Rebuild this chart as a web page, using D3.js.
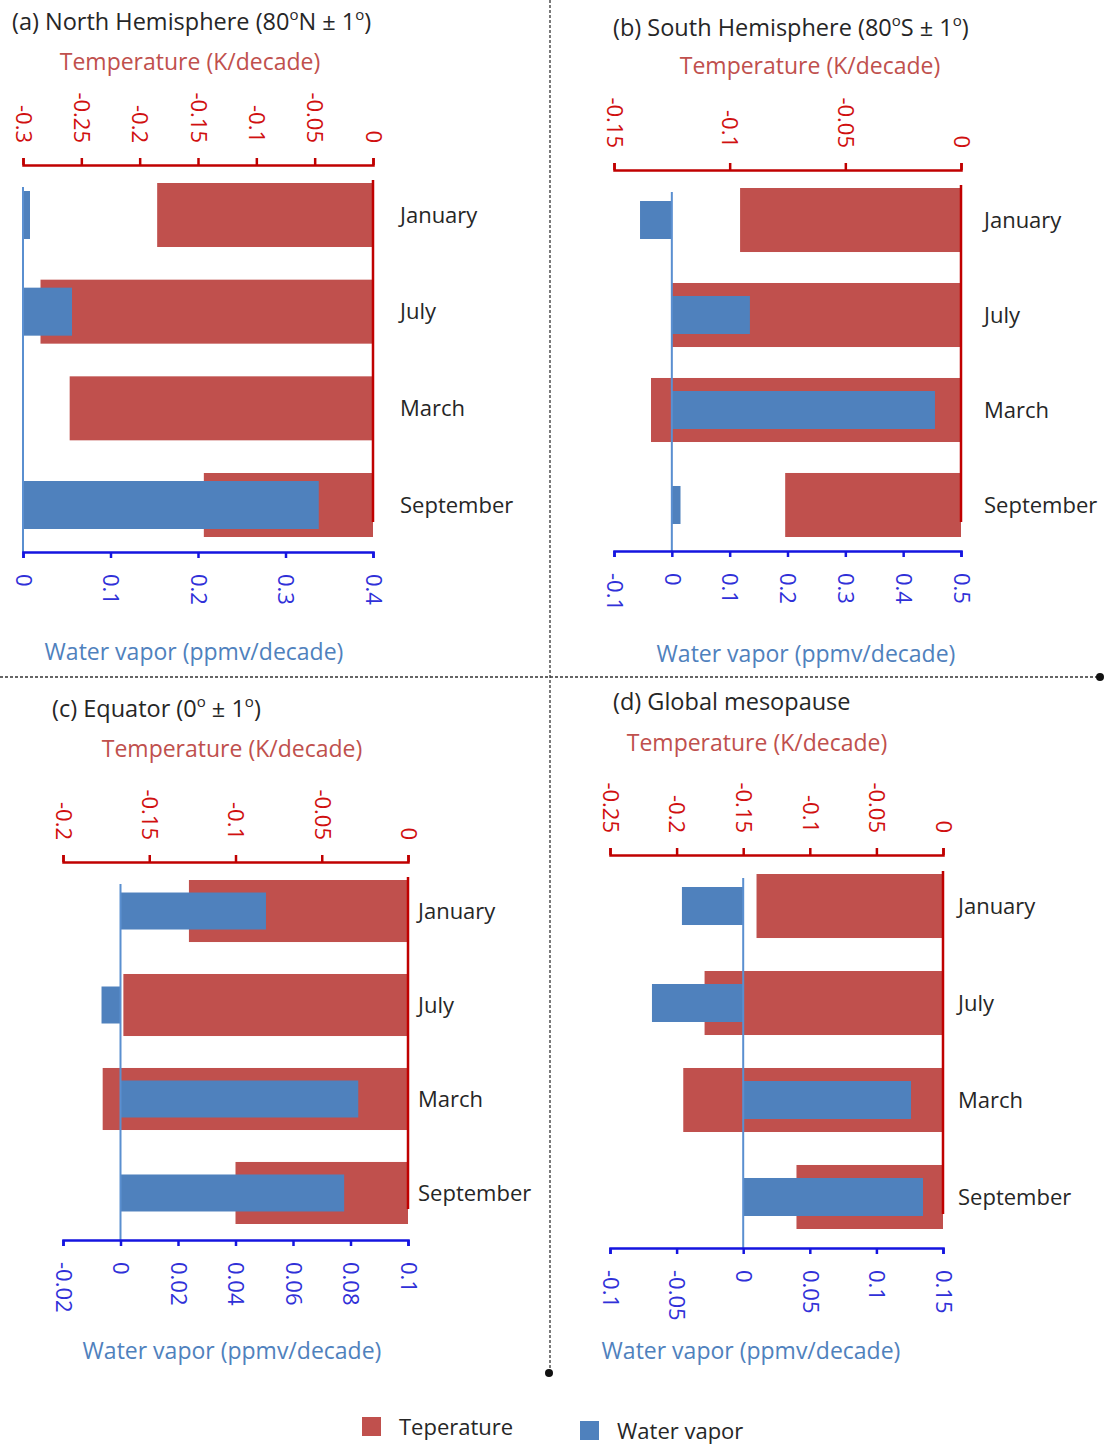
<!DOCTYPE html>
<html>
<head>
<meta charset="utf-8">
<script src="https://cdn.jsdelivr.net/npm/d3@7"></script>
<style>
  body { margin: 0; background: #fff; }
  text { font-family: "Open Sans", Lato, sans-serif; }
</style>
</head>
<body>
<script>
// categories (top to bottom)
const months = ["January", "July", "March", "September"];

// (a) North Hemisphere
const tempNorth = [-0.185, -0.285, -0.26, -0.145];
const vaporNorth = [0.008, 0.056, 0, 0.338];
const tempTicksNorth = [-0.3, -0.25, -0.2, -0.15, -0.1, -0.05, 0];
const vaporTicksNorth = [0, 0.1, 0.2, 0.3, 0.4];

// (b) South Hemisphere
const tempSouth = [-0.0955, -0.125, -0.134, -0.076];
const vaporSouth = [-0.055, 0.135, 0.455, 0.015];
const tempTicksSouth = [-0.15, -0.1, -0.05, 0];
const vaporTicksSouth = [-0.1, 0, 0.1, 0.2, 0.3, 0.4, 0.5];

// (c) Equator
const tempEquator = [-0.127, -0.165, -0.177, -0.1];
const vaporEquator = [0.0506, -0.0066, 0.0827, 0.0778];
const tempTicksEquator = [-0.2, -0.15, -0.1, -0.05, 0];
const vaporTicksEquator = [-0.02, 0, 0.02, 0.04, 0.06, 0.08, 0.1];

// (d) Global mesopause
const tempGlobal = [-0.14, -0.179, -0.195, -0.11];
const vaporGlobal = [-0.046, -0.0685, 0.126, 0.135];
const tempTicksGlobal = [-0.25, -0.2, -0.15, -0.1, -0.05, 0];
const vaporTicksGlobal = [-0.1, -0.05, 0, 0.05, 0.1, 0.15];

const legendLabels = ["Teperature", "Water vapor"];

const redBar = "#c0504d", blueBar = "#4f81bd";
const redAxis = "#c00000", blueAxis = "#1515e0";

const width = 1105, height = 1447;
const svg = d3.select("body").append("svg")
  .attr("width", width).attr("height", height);

// panel table built from the arrays above
let panels = [
  { title: ["(a) North Hemisphere (80", "o", "N \u00b1 1", "o", ")"], temp: tempNorth, vapor: vaporNorth,
    tTicks: tempTicksNorth, vTicks: vaporTicksNorth,
    left: 23, right: 373, tAxisY: 165, vAxisY: 552, band: [183, 537], pad: 0.338, blueH: 48,
    titleX: 12, titleY: 22, tTitleX: 190, tTitleY: 62, vTitleX: 194, vTitleY: 652, labelX: 400 },
  { title: ["(b) South Hemisphere (80", "o", "S \u00b1 1", "o", ")"], temp: tempSouth, vapor: vaporSouth,
    tTicks: tempTicksSouth, vTicks: vaporTicksSouth,
    left: 614, right: 961, tAxisY: 170, vAxisY: 551, band: [188, 537], pad: 0.326, blueH: 38,
    titleX: 613, titleY: 28, tTitleX: 810, tTitleY: 66, vTitleX: 806, vTitleY: 654, labelX: 984 },
  { title: ["(c) Equator (0", "o", " \u00b1 1", "o", ")"], temp: tempEquator, vapor: vaporEquator,
    tTicks: tempTicksEquator, vTicks: vaporTicksEquator,
    left: 63, right: 408, tAxisY: 862, vAxisY: 1240, band: [880, 1224], pad: 0.34, blueH: 37,
    titleX: 52, titleY: 709, tTitleX: 232, tTitleY: 749, vTitleX: 232, vTitleY: 1351, labelX: 418 },
  { title: ["(d) Global mesopause"], temp: tempGlobal, vapor: vaporGlobal,
    tTicks: tempTicksGlobal, vTicks: vaporTicksGlobal,
    left: 610, right: 943, tAxisY: 855, vAxisY: 1248, band: [874, 1229], pad: 0.34, blueH: 38,
    titleX: 613, titleY: 702, tTitleX: 757, tTitleY: 743, vTitleX: 751, vTitleY: 1351, labelX: 958 }
];

function fmt(d) { return d === 0 ? "0" : String(d); }

panels.forEach(function(p) {
  let g = svg.append("g");

  let t = d3.scaleLinear().domain([d3.min(p.tTicks), 0]).range([p.left, p.right]);
  let v = d3.scaleLinear().domain(d3.extent(p.vTicks)).range([p.left, p.right]);
  let y = d3.scaleBand().domain(months).range(p.band).paddingInner(p.pad).paddingOuter(0);

  // panel title with superscripts
  let title = g.append("text")
    .attr("x", p.titleX).attr("y", p.titleY + 8)
    .style("font-size", "23.5px").style("fill", "#262626");
  p.title.forEach(function(s, i) {
    let ts = title.append("tspan").text(s);
    if (i % 2 === 1) ts.attr("dy", -10).style("font-size", "15px");
    else if (i > 0) ts.attr("dy", 10);
  });

  g.append("text").attr("x", p.tTitleX).attr("y", p.tTitleY).attr("dy", "0.35em")
    .attr("text-anchor", "middle").style("font-size", "23px").style("fill", "#c0504d")
    .text("Temperature (K/decade)");
  g.append("text").attr("x", p.vTitleX).attr("y", p.vTitleY).attr("dy", "0.35em")
    .attr("text-anchor", "middle").style("font-size", "23px").style("fill", "#4f81bd")
    .text("Water vapor (ppmv/decade)");

  // temperature bars
  g.selectAll(".tbar").data(months).enter().append("rect")
    .attr("x", (m, i) => t(p.temp[i]))
    .attr("y", m => y(m))
    .attr("width", (m, i) => t(0) - t(p.temp[i]))
    .attr("height", y.bandwidth())
    .attr("fill", redBar);

  // water vapor bars
  g.selectAll(".vbar").data(months).enter().append("rect")
    .attr("x", (m, i) => v(Math.min(0, p.vapor[i])))
    .attr("y", m => y(m) + y.bandwidth() / 2 - p.blueH / 2)
    .attr("width", (m, i) => Math.abs(v(p.vapor[i]) - v(0)))
    .attr("height", p.blueH)
    .attr("fill", blueBar);

  // zero lines
  g.append("line")
    .attr("x1", t(0)).attr("x2", t(0))
    .attr("y1", p.band[0] - 3).attr("y2", p.band[1] - 15)
    .attr("stroke", redAxis).attr("stroke-width", 2.5);
  g.append("line")
    .attr("x1", v(0)).attr("x2", v(0))
    .attr("y1", p.band[0] + 4).attr("y2", p.vAxisY)
    .attr("stroke", "#5a8fd0").attr("stroke-width", 2);

  // month labels
  g.selectAll(".mlab").data(months).enter().append("text")
    .attr("x", p.labelX)
    .attr("y", m => y(m) + y.bandwidth() / 2)
    .attr("dy", "0.35em")
    .style("font-size", "22px").style("fill", "#262626")
    .text(m => m);

  // temperature axis (top)
  let ta = g.append("g").attr("transform", "translate(0," + p.tAxisY + ")")
    .call(d3.axisTop(t).tickValues(p.tTicks).tickSize(7).tickSizeOuter(7).tickFormat(fmt));
  ta.selectAll("path, line").attr("stroke", redAxis).attr("stroke-width", 2.5);
  ta.selectAll("text")
    .attr("transform", "rotate(90)")
    .attr("x", -22).attr("y", 0).attr("dy", "0.35em")
    .style("text-anchor", "end").style("font-size", "22px")
    .style("font-family", "'Open Sans', sans-serif").attr("fill", "#d01010");

  // water vapor axis (bottom)
  let va = g.append("g").attr("transform", "translate(0," + p.vAxisY + ")")
    .call(d3.axisBottom(v).tickValues(p.vTicks).tickSize(6).tickSizeOuter(6).tickFormat(fmt));
  va.selectAll("path, line").attr("stroke", blueAxis).attr("stroke-width", 2.5);
  va.selectAll("text")
    .attr("transform", "rotate(90)")
    .attr("x", 22).attr("y", 0).attr("dy", "0.35em")
    .style("text-anchor", "start").style("font-size", "22px")
    .style("font-family", "'Open Sans', sans-serif").attr("fill", "#3030d8");
});

// dashed separators
svg.append("line").attr("x1", 550).attr("x2", 550).attr("y1", 0).attr("y2", 1373)
  .attr("stroke", "#333").attr("stroke-width", 1.3).attr("stroke-dasharray", "3,2");
svg.append("circle").attr("cx", 549).attr("cy", 1373).attr("r", 4).attr("fill", "#111");
svg.append("line").attr("x1", 0).attr("x2", 1100).attr("y1", 677).attr("y2", 677)
  .attr("stroke", "#333").attr("stroke-width", 1.3).attr("stroke-dasharray", "3,2");
svg.append("circle").attr("cx", 1100).attr("cy", 677).attr("r", 4).attr("fill", "#111");

// legend
let legend = svg.append("g");
[[362, 1417, redBar], [580, 1421, blueBar]].forEach(function(d, i) {
  legend.append("rect").attr("x", d[0]).attr("y", d[1]).attr("width", 19).attr("height", 19).attr("fill", d[2]);
  legend.append("text").attr("x", d[0] + 37).attr("y", d[1] + 10).attr("dy", "0.35em")
    .style("font-size", "22px").style("fill", "#262626").text(legendLabels[i]);
});
</script>
</body>
</html>
